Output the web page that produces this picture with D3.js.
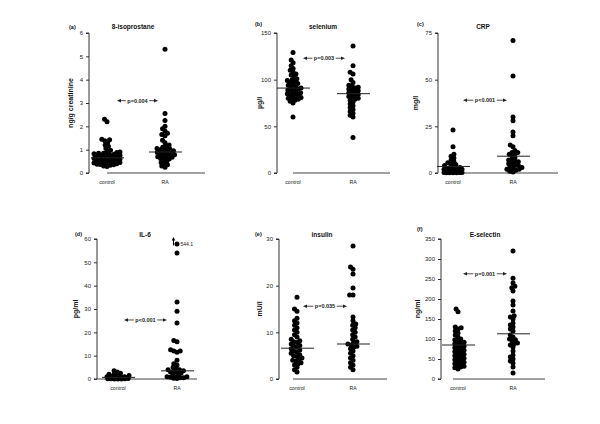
<!DOCTYPE html>
<html><head><meta charset="utf-8">
<script src="https://cdn.jsdelivr.net/npm/d3@7"></script>
<style>body{margin:0;background:#fff}svg{display:block}text{font-family:"Liberation Sans",Arial,sans-serif}</style>
</head><body><svg id="c" width="600" height="424"></svg>
<script>
// ---------- data ----------
const groups = ["control", "RA"];
const panelIds = ["a","b","c","d","e","f"];
const titles = ["8-isoprostane","selenium","CRP","IL-6","insulin","E-selectin"];
const yLabels = ["ng/g creatinine","µg/l","mg/l","pg/ml","mU/l","ng/ml"];
const pTexts = ["p=0.004","p=0.003","p<0.001","p<0.001","p=0.035","p=0.001"];
const yMax = [6,150,75,60,30,350];
const yTicks = [[0,1,2,3,4,5,6],[0,50,100,150],[0,25,50,75],[0,10,20,30,40,50,60],[0,10,20,30],[0,50,100,150,200,250,300,350]];

const isoControl = [2.3,2.2,1.45,1.42,1.38,1.3,1.2,1.15,1.05,0.98,0.92,0.9,0.88,0.85,0.85,0.82,0.8,0.8,0.78,0.75,0.75,0.72,0.7,0.7,0.68,0.66,0.65,0.63,0.62,0.6,0.6,0.58,0.56,0.55,0.54,0.52,0.5,0.5,0.48,0.46,0.45,0.43,0.42,0.4,0.38,0.36,0.35,0.33,0.3,0.28];
const isoRA = [5.3,2.55,2.25,2.0,1.9,1.8,1.7,1.65,1.6,1.4,1.3,1.2,1.15,1.1,1.05,1.05,1.0,1.0,0.95,0.92,0.9,0.88,0.85,0.82,0.8,0.78,0.75,0.72,0.7,0.68,0.65,0.62,0.6,0.55,0.5,0.45,0.4,0.35,0.3,0.25];
const seControl = [129,121,118,115,112,110,108,106,105,103,101,100,99,98,97,96,95,94,93,92,91,90,90,89,88,87,86,85,85,84,83,82,81,80,80,79,78,77,75,60];
const seRA = [136,115,108,106,100,97,94,93,92,91,90,89,88,87,86,85,84,83,82,81,80,79,78,76,74,72,70,68,66,64,62,60,38];
const crpControl = [23,14,10,9,8,7,6,5.5,5,4.5,4,3.5,3,3,2.5,2.5,2,2,2,1.5,1.5,1.5,1,1,1,1,0.8,0.8,0.5,0.5,0.5,0.5,0.3,0.3,0.3,0.2,0.2,0.1,0.1];
const crpRA = [71,52,30,28,22,20,15,14,12,11,11,10,10,9,8,7,7,6,6,5,5,4,4,3,3,2.5,2,2,1.5,1,0.5];
const il6Control = [3.5,3,2.5,2,2,1.5,1.5,1,1,1,0.8,0.6,0.5,0.5,0.4,0.3,0.3,0.2,0.2,0.1,0.1,0.1,0,0,0];
const il6RA = [544.1,54,33,29,24,16.5,16,12.5,12,12,11.5,8,6.5,6,5,4.5,4,4,3.5,3.5,3,3,2.5,2,1.5,1,1,1,0.8,0.5,0.5,0.3,0.2];
const insControl = [17.5,15,14.5,13,12.5,12,11.5,11,10.5,10,9.5,9,8.5,8.2,8,7.8,7.5,7.2,7,6.8,6.5,6.2,6,5.8,5.5,5.2,5,4.8,4.5,4.2,4,3.8,3.5,3.2,3,2.5,2,1.5];
const insRA = [28.5,24,23.5,22.5,19.5,18,18,13.3,12.5,11.8,11.5,11,10.5,10,9.5,9,8.5,8,7.8,7.5,7.3,7,6.8,6.5,6,5.5,5,4.5,4,3.5,3,2.5,2];
const eselControl = [175,168,130,128,125,120,115,110,105,100,98,95,92,90,88,85,82,80,78,75,72,70,68,65,62,60,58,55,52,50,48,45,42,40,38,35,32,30,28,25];
const eselRA = [320,252,240,232,228,220,195,185,170,158,155,150,140,135,130,125,120,110,105,100,98,95,90,88,85,80,70,60,55,50,45,40,30,15];
const medians = [[0.65,0.9],[91,85],[3.5,9],[0.7,3.5],[6.6,7.5],[85,113]];
const seriesValues = [[isoControl,isoRA],[seControl,seRA],[crpControl,crpRA],[il6Control,il6RA],[insControl,insRA],[eselControl,eselRA]];
const il6Outlier = "544.1";

// ---------- layout ----------
const rows = [{top:33,bot:173},{top:239,bot:379}];
const layout = [
 {row:0, axisX:89, ctrlX:107, raX:165, xStart:107, xEnd:205, labelX:73, tagX:69, titleX:133, spread:13, p:{x1:117,x2:158,v:3.1}},
 {row:0, axisX:277, ctrlX:293, raX:353, xStart:293, xEnd:390, labelX:262, tagX:255, titleX:323, spread:10, p:{x1:303,x2:345,v:123}},
 {row:0, axisX:438, ctrlX:453, raX:513, xStart:453, xEnd:558, labelX:418, tagX:417, titleX:483, spread:9, p:{x1:463,x2:507,v:39}},
 {row:1, axisX:97, ctrlX:118, raX:177, xStart:97, xEnd:197, labelX:78, tagX:75, titleX:145, spread:11, p:{x1:124,x2:167,v:25.3}},
 {row:1, axisX:279, ctrlX:297, raX:353, xStart:293, xEnd:387, labelX:262, tagX:255, titleX:322, spread:10, p:{x1:303,x2:347,v:15.6}},
 {row:1, axisX:441, ctrlX:458, raX:513, xStart:453, xEnd:545, labelX:420, tagX:417, titleX:485, spread:11, p:{x1:463,x2:507,v:263}}
];
const tagY = [29,26,26,236,236,231];
const R = 2.5, D = 3.4;

const svg = d3.select("#c");

function swarm(vals, y, cx, maxW) {
  const pts = vals.map(v => ({v, y: y(Math.min(v, y.domain()[1]*0.965))})).sort((a,b)=>b.y-a.y);
  const placed = [];
  for (const p of pts) {
    const cands = [0];
    for (const q of placed) {
      const dy = Math.abs(q.y - p.y);
      if (dy < D) { const dx = Math.sqrt(D*D - dy*dy); cands.push(q.dx + dx, q.dx - dx); }
    }
    cands.sort((a,b)=>Math.abs(a)-Math.abs(b) || a-b);
    let chosen = null;
    for (const c of cands) {
      if (Math.abs(c) > maxW) continue;
      let ok = true;
      for (const q of placed) {
        const ddx = q.dx - c, ddy = q.y - p.y;
        if (ddx*ddx + ddy*ddy < D*D - 0.01) { ok = false; break; }
      }
      if (ok) { chosen = c; break; }
    }
    if (chosen === null) {
      let best = -1;
      for (let c = -maxW; c <= maxW; c += 0.5) {
        let md = Infinity;
        for (const q of placed) { const ddx = q.dx - c, ddy = q.y - p.y; md = Math.min(md, ddx*ddx + ddy*ddy); }
        if (md > best) { best = md; chosen = c; }
      }
    }
    p.dx = chosen;
    placed.push(p);
  }
  return placed.map(p => ({v:p.v, x: cx + p.dx, y: p.y}));
}

function arrowHead(g, x, y, dir) {
  g.append("path").attr("d", `M${x},${y}L${x - dir*4},${y-1.8}L${x - dir*4},${y+1.8}Z`).attr("fill","#222");
}

panelIds.forEach((id, i) => {
  const L = layout[i], rw = rows[L.row];
  const y = d3.scaleLinear().domain([0, yMax[i]]).range([rw.bot, rw.top]);
  const x = d3.scalePoint().domain(groups).range([L.ctrlX, L.raX]);
  const g = svg.append("g");

  const ax = g.append("g").attr("transform", `translate(${L.axisX},0)`)
    .call(d3.axisLeft(y).tickValues(yTicks[i]).tickSize(3).tickPadding(3).tickFormat(d3.format("d")));
  ax.select(".domain").attr("stroke","#333").attr("d", `M-3,${rw.top}H0V${rw.bot}H-3`);
  ax.selectAll(".tick line").attr("stroke","#333");
  ax.selectAll(".tick text").attr("font-size", 6).attr("fill","#222");

  g.append("line").attr("x1", L.xStart).attr("x2", L.xEnd).attr("y1", rw.bot).attr("y2", rw.bot)
    .attr("stroke","#444").attr("stroke-width",1);
  groups.forEach(gr => {
    g.append("text").attr("x", x(gr)).attr("y", rw.bot + 11).attr("text-anchor","middle")
      .attr("font-size", 5.2).attr("fill","#222").text(gr);
  });

  groups.forEach((gr, k) => {
    const pts = swarm(seriesValues[i][k], y, x(gr), L.spread);
    g.selectAll(null).data(pts).enter().append("circle")
      .attr("cx", d => d.x).attr("cy", d => d.y).attr("r", R).attr("fill","#000");
    g.append("line").attr("x1", x(gr) - 16).attr("x2", x(gr) + 17)
      .attr("y1", y(medians[i][k])).attr("y2", y(medians[i][k]))
      .attr("stroke","#222").attr("stroke-width",1);
    if (id === "d" && k === 1) {
      const top = pts.find(p => p.v > yMax[i]);
      g.append("line").attr("x1", top.x - 3.5).attr("x2", top.x - 3.5).attr("y1", top.y + 1.5).attr("y2", top.y - 5)
        .attr("stroke","#000").attr("stroke-width",1);
      g.append("path").attr("d", `M${top.x-3.5},${top.y-7}L${top.x-5.3},${top.y-3.5}L${top.x-1.7},${top.y-3.5}Z`).attr("fill","#000");
      g.append("text").attr("x", top.x + 3.5).attr("y", top.y + 2).attr("font-size", 5).attr("fill","#222").text(il6Outlier);
    }
  });

  g.append("text").attr("x", L.titleX).attr("y", L.row ? rw.top - 2 : rw.top - 4).attr("text-anchor","middle")
    .attr("font-size", 6.5).attr("font-weight","bold").attr("fill","#111").text(titles[i]);
  g.append("text").attr("x", L.tagX).attr("y", tagY[i]).attr("font-size", 5.5).attr("font-weight","bold").attr("fill","#111").text("(" + id + ")");
  g.append("text").attr("transform", `translate(${L.labelX},${(rw.top + rw.bot)/2}) rotate(-90)`)
    .attr("text-anchor","middle").attr("font-size", 7).attr("font-weight","bold").attr("fill","#111").text(yLabels[i]);

  const py = y(L.p.v), mid = (L.p.x1 + L.p.x2)/2;
  const t = g.append("text").attr("x", mid).attr("y", py + 2).attr("text-anchor","middle")
    .attr("font-size", 5.5).attr("font-weight","bold").attr("fill","#222").text(pTexts[i]);
  const tw = t.node().getComputedTextLength();
  g.append("line").attr("x1", L.p.x1 + 3).attr("x2", mid - tw/2 - 1.5).attr("y1", py).attr("y2", py).attr("stroke","#222").attr("stroke-width",0.8);
  g.append("line").attr("x1", mid + tw/2 + 1.5).attr("x2", L.p.x2 - 3).attr("y1", py).attr("y2", py).attr("stroke","#222").attr("stroke-width",0.8);
  arrowHead(g, L.p.x1, py, -1);
  arrowHead(g, L.p.x2, py, 1);
});
</script></body></html>
